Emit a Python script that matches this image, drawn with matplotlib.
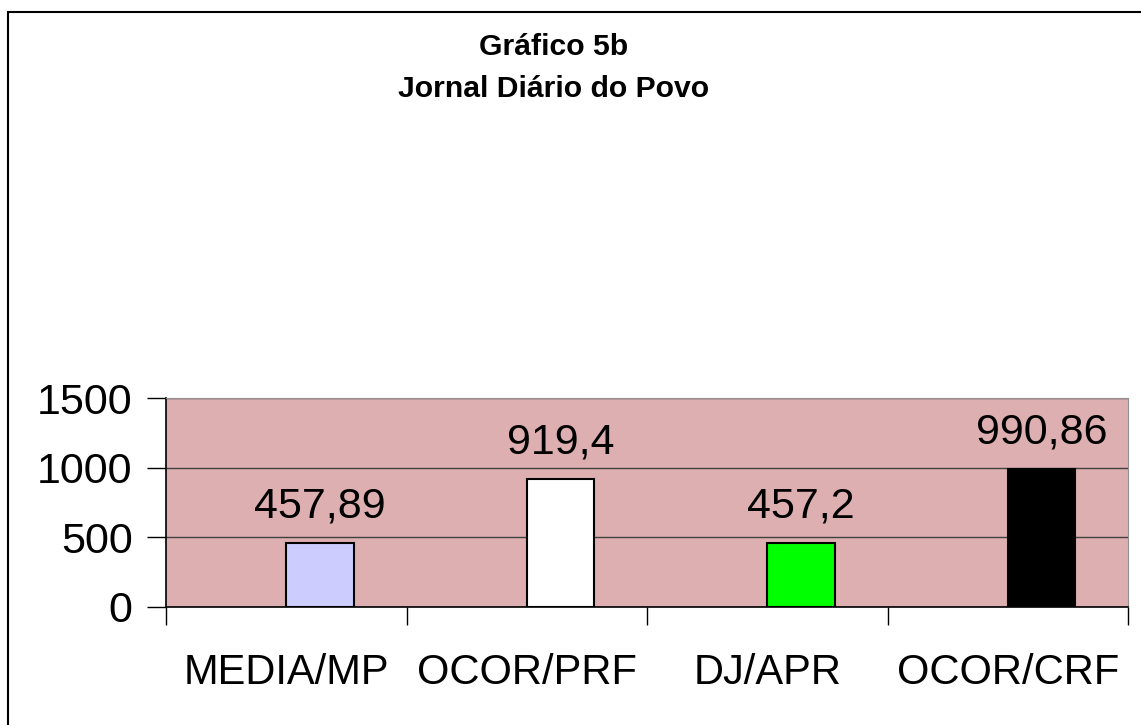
import matplotlib.pyplot as plt
from matplotlib.patches import Rectangle

plt.rcParams['font.family'] = ['Liberation Sans', 'DejaVu Sans']

categories = ['MEDIA/MP', 'OCOR/PRF', 'DJ/APR', 'OCOR/CRF']
values = [457.89, 919.4, 457.2, 990.86]
value_labels = ['457,89', '919,4', '457,2', '990,86']
bar_colors = ['#CCCCFF', '#FFFFFF', '#00FF00', '#000000']
yticks = [0, 500, 1000, 1500]

fig = plt.figure(figsize=(11.41, 7.25), dpi=100)
fig.patches.append(Rectangle((8 / 1141, -0.05), 1.2, 1 - 12 / 725 + 0.05,
                             transform=fig.transFigure, fill=False,
                             edgecolor='black', linewidth=1.5))

ax = fig.add_axes([166 / 1141, 1 - 607 / 725, (1128 - 166) / 1141, (607 - 398) / 725])
ax.set_facecolor('#DDAFB1')

pos = list(range(len(categories)))
bar_x = [p + 0.14 for p in pos]
ax.bar(bar_x, values, width=0.28, color=bar_colors, edgecolor='black', linewidth=1.5, zorder=3)

for x, v, lab in zip(bar_x, values, value_labels):
    ax.text(x, v + 185, lab, ha='center', va='baseline', fontsize=31, zorder=4)

ax.set_xlim(-0.5, len(categories) - 0.5)
ax.set_ylim(0, 1500)
ax.set_yticks(yticks)
ax.set_yticklabels([str(t) for t in yticks], fontsize=31)
ax.yaxis.grid(True, color='#404040', linewidth=1)
ax.set_axisbelow(True)

ax.set_xticks([p - 0.5 for p in range(len(categories) + 1)])
ax.set_xticklabels([])
ax.set_xticks(pos, minor=True)
ax.set_xticklabels(categories, minor=True, fontsize=30)
ax.tick_params(axis='x', which='major', length=13, width=1, direction='out')
ax.tick_params(axis='x', which='minor', length=0, pad=33)
ax.tick_params(axis='y', length=14, width=1, pad=10)

for s in ['top', 'right']:
    ax.spines[s].set_color('#909090')
ax.spines['left'].set_linewidth(1.2)
ax.spines['bottom'].set_linewidth(1.2)

fig.text(554 / 1141, 1 - 55 / 725, 'Gráfico 5b', ha='center', va='baseline', fontsize=21.7, fontweight='bold')
fig.text(554 / 1141, 1 - 97 / 725, 'Jornal Diário do Povo', ha='center', va='baseline', fontsize=21.7, fontweight='bold')

fig.savefig('out.png', dpi=100)
